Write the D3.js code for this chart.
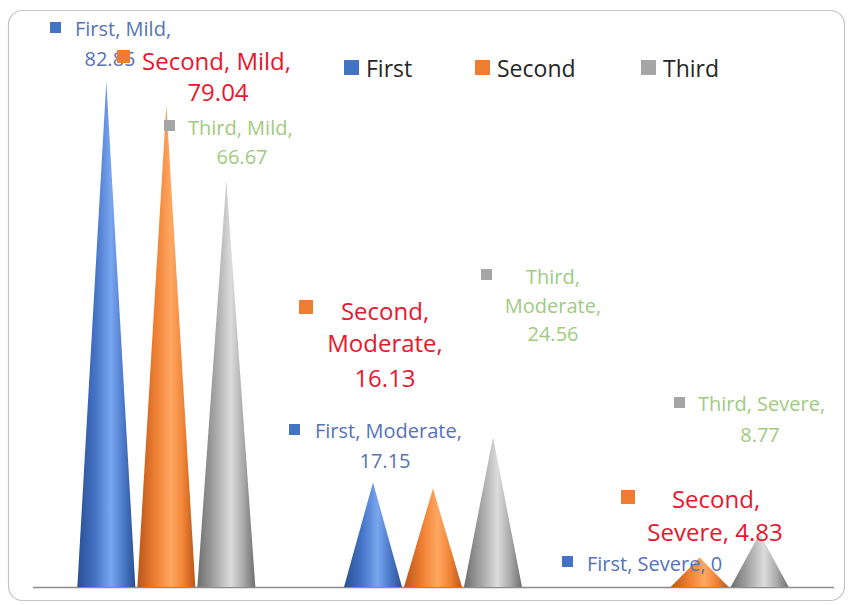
<!DOCTYPE html>
<html>
<head>
<meta charset="utf-8">
<script src="https://cdn.jsdelivr.net/npm/d3@7/dist/d3.min.js"></script>
<style>
  html, body { margin: 0; padding: 0; background: #ffffff; }
  svg { display: block; }
</style>
</head>
<body>
<svg id="chart" width="850" height="605"></svg>
<script>
// Severity categories and the three series
const categories = ["Mild", "Moderate", "Severe"];
const seriesNames = ["First", "Second", "Third"];
const firstValues = [82.85, 17.15, 0];
const secondValues = [79.04, 16.13, 4.83];
const thirdValues = [66.67, 24.56, 8.77];

const seriesColors = ["#4472C4", "#ED7D31", "#A5A5A5"];
const shades = [
  ["#2a4f92", "#4472C4", "#7aa6f0", "#4a78c8", "#2a4f92"],
  ["#b8561a", "#ED7D31", "#ffa862", "#ee8234", "#b8561a"],
  ["#6e6e6e", "#a5a5a5", "#dcdcdc", "#a8a8a8", "#6e6e6e"]
];
const labelColors = ["#5673b6", "#e8162e", "#9fcb7f"];
const labelSizes = [20, 24, 20];

const rows = seriesNames.map((s, i) => ({
  name: s,
  values: [firstValues, secondValues, thirdValues][i]
}));

const svg = d3.select("#chart");
const font = "'Open Sans', 'Liberation Sans', sans-serif";

// Chart frame
svg.append("rect")
  .attr("x", 8.5).attr("y", 10.5)
  .attr("width", 836).attr("height", 590)
  .attr("rx", 14).attr("ry", 14)
  .attr("fill", "#ffffff")
  .attr("stroke", "#c4c4c4").attr("stroke-width", 1.2);

// Scales
const x = d3.scaleBand().domain(categories).range([33, 833]);
const inner = d3.scalePoint().domain(seriesNames).range([-60, 60]);
const y = d3.scaleLinear().domain([0, 90]).range([587, 38]);
const halfBase = 29;

// Cone shading gradients
const defs = svg.append("defs");
seriesNames.forEach((s, i) => {
  const g = defs.append("linearGradient")
    .attr("id", "cone-" + i)
    .attr("x1", "0%").attr("x2", "100%").attr("y1", "0%").attr("y2", "0%");
  const stops = [0, 0.3, 0.58, 0.8, 1];
  stops.forEach((o, k) => g.append("stop").attr("offset", o).attr("stop-color", shades[i][k]));
});

// Category axis line
svg.append("line")
  .attr("x1", 33).attr("x2", 834)
  .attr("y1", y(0) + 0.5).attr("y2", y(0) + 0.5)
  .attr("stroke", "#8c8c8c").attr("stroke-width", 1.5);

// Cones
const cones = [];
rows.forEach((r, si) => {
  r.values.forEach((v, ci) => {
    cones.push({ si, ci, series: r.name, cat: categories[ci], v });
  });
});

svg.append("g").selectAll("path")
  .data(cones.filter(d => d.v > 0))
  .join("path")
  .attr("d", d => {
    const cx = x(d.cat) + x.bandwidth() / 2 + inner(d.series);
    const top = y(d.v), base = y(0);
    return `M${cx - halfBase},${base} L${cx},${top} L${cx + halfBase},${base} Z`;
  })
  .attr("fill", d => `url(#cone-${d.si})`);

// Data labels: marker square, then text lines built from series, category and value.
// wrap: how "series, category, value" breaks into lines
const labelLayout = [
  { si: 0, ci: 0, wrap: [2, 1], marker: [50, 22, 11], lines: [[75, 28, "start"], [110, 58, "middle"]] },
  { si: 1, ci: 0, wrap: [2, 1], marker: [117, 50, 13], lines: [[142, 60, "start"], [218, 91, "middle"]] },
  { si: 2, ci: 0, wrap: [2, 1], marker: [164, 120, 11], lines: [[188, 127, "start"], [242, 156, "middle"]] },
  { si: 1, ci: 1, wrap: [1, 1, 1], marker: [299, 300, 14], lines: [[385, 310, "middle"], [385, 342, "middle"], [385, 377, "middle"]] },
  { si: 2, ci: 1, wrap: [1, 1, 1], marker: [481, 269, 11], lines: [[553, 276, "middle"], [553, 305, "middle"], [553, 333, "middle"]] },
  { si: 0, ci: 1, wrap: [2, 1], marker: [289, 424, 11], lines: [[315, 430, "start"], [385, 460, "middle"]] },
  { si: 2, ci: 2, wrap: [2, 1], marker: [674, 397, 11], lines: [[698, 403, "start"], [760, 434, "middle"]] },
  { si: 1, ci: 2, wrap: [1, 2], marker: [621, 490, 14], lines: [[716, 498, "middle"], [715, 531, "middle"]] },
  { si: 0, ci: 2, wrap: [3], marker: [562, 556, 11], lines: [[587, 563, "start"]] }
];

const labelG = svg.append("g");
labelLayout.forEach(L => {
  const parts = [seriesNames[L.si], categories[L.ci], String(rows[L.si].values[L.ci])];
  const lines = [];
  let k = 0;
  L.wrap.forEach(n => {
    const chunk = parts.slice(k, k + n);
    k += n;
    let t = chunk.join(", ");
    if (k < parts.length) t += ",";
    lines.push(t);
  });
  labelG.append("rect")
    .attr("x", L.marker[0]).attr("y", L.marker[1])
    .attr("width", L.marker[2]).attr("height", L.marker[2])
    .attr("fill", seriesColors[L.si]);
  lines.forEach((t, i) => {
    const [lx, ly, anchor] = L.lines[i];
    labelG.append("text")
      .attr("x", lx).attr("y", ly)
      .attr("text-anchor", anchor)
      .attr("dominant-baseline", "central")
      .attr("font-family", font)
      .attr("font-size", labelSizes[L.si])
      .attr("fill", labelColors[L.si])
      .text(t);
  });
});

// Legend
const legendX = [344, 475, 641];
const legend = svg.append("g");
seriesNames.forEach((s, i) => {
  legend.append("rect")
    .attr("x", legendX[i]).attr("y", 60)
    .attr("width", 15).attr("height", 15)
    .attr("fill", seriesColors[i]);
  legend.append("text")
    .attr("x", legendX[i] + 22).attr("y", 68)
    .attr("dominant-baseline", "central")
    .attr("font-family", font)
    .attr("font-size", 23)
    .attr("fill", "#262626")
    .text(s);
});
</script>
</body>
</html>
